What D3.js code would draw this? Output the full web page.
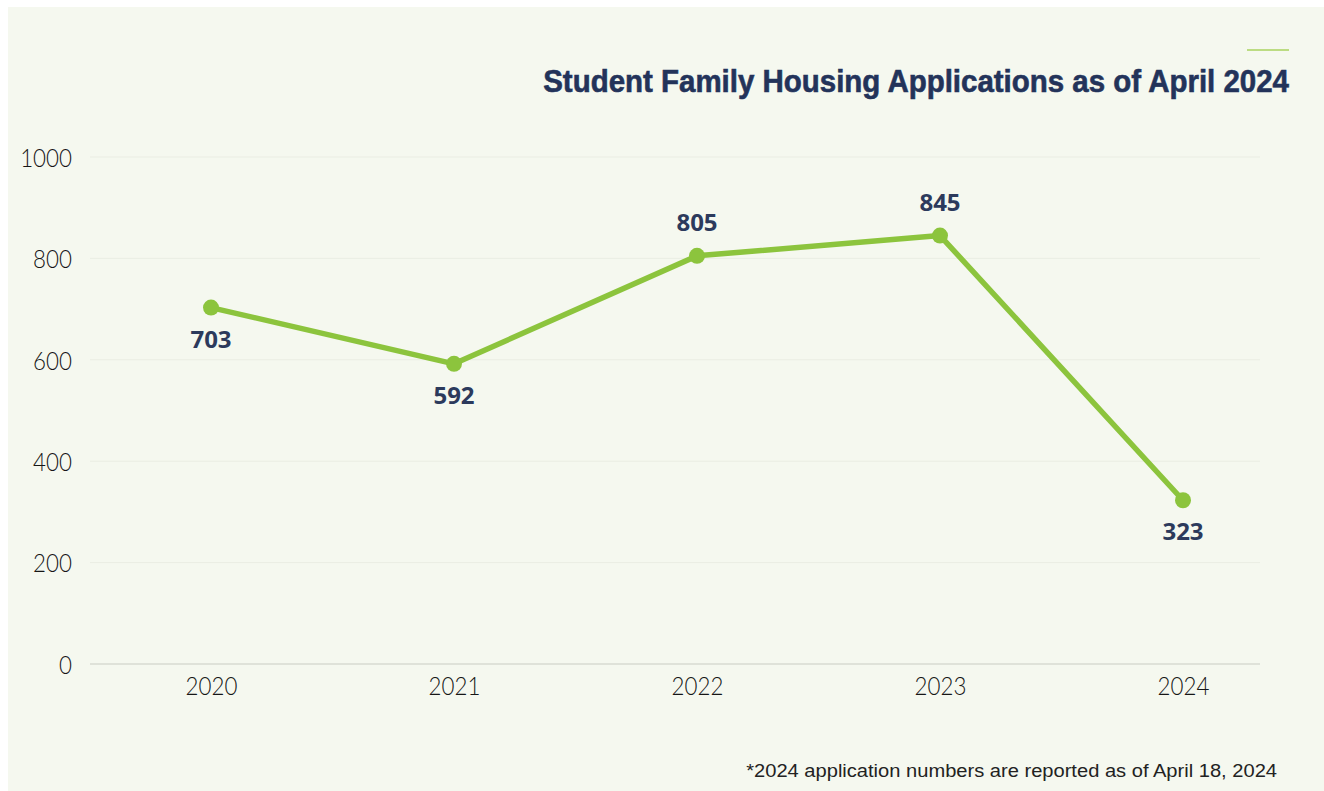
<!DOCTYPE html>
<html>
<head>
<meta charset="utf-8">
<script src="https://cdn.jsdelivr.net/npm/d3@7/dist/d3.min.js"></script>
<style>
  html, body { margin: 0; padding: 0; background: #ffffff; }
  svg { display: block; }
</style>
</head>
<body>
<svg id="chart" width="1324" height="791"></svg>
<script>
// Student Family Housing applications by year
const years = ["2020", "2021", "2022", "2023", "2024"];
const applications = [703, 592, 805, 845, 323];
const labelSide = ["below", "below", "above", "above", "below"];
const yTicks = [0, 200, 400, 600, 800, 1000];
const titleText = "Student Family Housing Applications as of April 2024";
const footnoteText = "*2024 application numbers are reported as of April 18, 2024";

const W = 1324, H = 791;
const svg = d3.select("#chart");

// panel background
svg.append("rect")
  .attr("x", 8).attr("y", 7)
  .attr("width", W - 8).attr("height", H - 7)
  .attr("fill", "#f5f8ef");

const plotLeft = 90, plotRight = 1260;
const x = d3.scalePoint().domain(years).range([211, 1183]);
const y = d3.scaleLinear().domain([0, 1000]).range([664, 157]);

// horizontal grid
svg.append("g").selectAll("line")
  .data(yTicks.filter(d => d > 0))
  .join("line")
  .attr("x1", plotLeft).attr("x2", plotRight)
  .attr("y1", d => y(d)).attr("y2", d => y(d))
  .attr("stroke", "#eaede3").attr("stroke-width", 1);

// baseline
svg.append("line")
  .attr("x1", plotLeft).attr("x2", plotRight)
  .attr("y1", y(0)).attr("y2", y(0))
  .attr("stroke", "#c9cbc3").attr("stroke-width", 1.2);

const axisFont = "Lato, 'Liberation Sans', Arial, sans-serif";
const axisScaleX = 0.86;

// y axis labels
const yAxis = d3.axisLeft(y).tickValues(yTicks).tickFormat(d3.format("d")).tickSize(0).tickPadding(0);
const gy = svg.append("g").attr("transform", "translate(72,0)").call(yAxis);
gy.select(".domain").remove();
gy.selectAll("text")
  .attr("x", 0)
  .attr("font-family", axisFont)
  .attr("font-weight", 300)
  .attr("font-size", 26)
  .attr("fill", "#161616")
  .attr("dy", "0.36em")
  .attr("transform", `scale(${axisScaleX},1)`);

// x axis labels
const xAxis = d3.axisBottom(x).tickSize(0).tickPadding(0);
const gx = svg.append("g").attr("transform", "translate(0,676)").call(xAxis);
gx.select(".domain").remove();
gx.selectAll("text")
  .attr("y", 0)
  .attr("font-family", axisFont)
  .attr("font-weight", 300)
  .attr("font-size", 26)
  .attr("fill", "#161616")
  .attr("dy", "0.72em")
  .attr("transform", `scale(${axisScaleX},1)`);

// line
const line = d3.line()
  .x((d, i) => x(years[i]))
  .y(d => y(d));
svg.append("path")
  .datum(applications)
  .attr("d", line)
  .attr("fill", "none")
  .attr("stroke", "#8cc43d")
  .attr("stroke-width", 5.5)
  .attr("stroke-linejoin", "round");

// points
svg.append("g").selectAll("circle")
  .data(applications)
  .join("circle")
  .attr("cx", (d, i) => x(years[i]))
  .attr("cy", d => y(d))
  .attr("r", 8)
  .attr("fill", "#8cc43d");

// value labels
svg.append("g").selectAll("text")
  .data(applications)
  .join("text")
  .attr("x", (d, i) => x(years[i]))
  .attr("y", (d, i) => labelSide[i] === "above" ? y(d) - 25 : y(d) + 40)
  .attr("text-anchor", "middle")
  .attr("font-family", "'Open Sans', Arial, sans-serif")
  .attr("font-weight", 700)
  .attr("font-size", 24)
  .attr("fill", "#2c3a5c")
  .text(d => d);

// title accent rule
svg.append("line")
  .attr("x1", 1247).attr("x2", 1289)
  .attr("y1", 50).attr("y2", 50)
  .attr("stroke", "#a8d35f").attr("stroke-width", 1.6);

// compress a right-anchored text horizontally so it spans the given width
function fitRight(sel, right, baseline, width) {
  sel.attr("x", 0).attr("y", 0).attr("text-anchor", "end");
  const w = sel.node().getComputedTextLength();
  const s = w > 0 ? width / w : 1;
  sel.attr("transform", `translate(${right},${baseline}) scale(${s},1)`);
}

// title
const title = svg.append("text")
  .attr("font-family", "'Liberation Sans', Arial, sans-serif")
  .attr("font-weight", 700)
  .attr("font-size", 31)
  .attr("fill", "#23335a")
  .attr("stroke", "#23335a")
  .attr("stroke-width", 0.6)
  .text(titleText);
fitRight(title, 1289, 92, 746);

// footnote
const foot = svg.append("text")
  .attr("font-family", "'Liberation Sans', Arial, sans-serif")
  .attr("font-size", 18.5)
  .attr("fill", "#222222")
  .text(footnoteText);
fitRight(foot, 1277, 777, 531);
</script>
</body>
</html>
